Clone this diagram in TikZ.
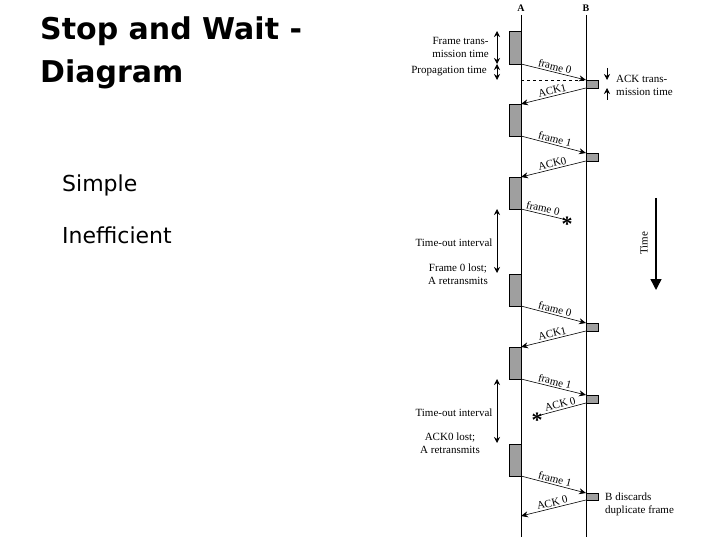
\documentclass[tikz,border=0pt]{standalone}
\usepackage{fontspec}
\setmainfont{Liberation Serif}
\newfontfamily\titlef{DejaVu Sans}
\usetikzlibrary{arrows.meta}
\begin{document}
\begin{tikzpicture}[x=1pt,y=-1pt,
  fbox/.style={fill=gray!75,draw=black,line width=0.5pt},
  msg/.style={-{Stealth[length=7pt,width=6pt]},line width=0.6pt},
  dim/.style={{Stealth[length=6pt,width=6pt]}-{Stealth[length=6pt,width=6pt]},line width=0.8pt},
  lbl/.style={font=\fontsize{11}{13}\selectfont,inner sep=1pt},
  ml/.style={font=\fontsize{11}{12}\selectfont,inner sep=1.5pt,sloped,above}]
\useasboundingbox (0,0) rectangle (720,540);
% title
\node[anchor=north west,align=left,font=\titlef\bfseries\fontsize{30}{43}\selectfont,inner sep=0] (title) at (40,17) {Stop and Wait -\\Diagram};
\node[anchor=west,font=\titlef\fontsize{22}{24}\selectfont,inner sep=0] (s1) at (62,185) {Simple};
\node[anchor=west,font=\titlef\fontsize{22}{24}\selectfont,inner sep=0] (s2) at (62,235) {Inefficient};
% timelines
\node[font=\bfseries\fontsize{10}{10}\selectfont] (A) at (521,8) {A};
\node[font=\bfseries\fontsize{10}{10}\selectfont] (B) at (586,8) {B};
\coordinate (Ae) at (521,537); \coordinate (Be) at (586,537);
\draw[line width=0.7pt] (A.south) -- (Ae);
\draw[line width=0.7pt] (B.south) -- (Be);
% A boxes
\foreach \i/\t/\b in {1/31/64,2/104/136,3/177/209,4/274/306,5/347/379,6/444/476}{
  \draw[fbox] (509,\t) rectangle (521,\b);
  \coordinate (a\i) at (521,\b); \coordinate (at\i) at (521,\t);}
% B boxes
\foreach \i/\t/\b in {1/80/88,2/153/161,3/323/331,4/395/403,5/493/500}{
  \draw[fbox] (586,\t) rectangle (598,\b);
  \coordinate (b\i) at (586,\t); \coordinate (bb\i) at (586,\b);}
% messages
\draw[msg] (a1) -- node[ml]{frame 0} (b1);
\draw[msg] (bb1) -- node[ml]{ACK1} (at2);
\draw[msg] (a2) -- node[ml]{frame 1} (b2);
\draw[msg] (bb2) -- node[ml]{ACK0} (at3);
\coordinate (x1) at (567,220);
\draw[line width=0.6pt] (a3) -- node[ml,pos=0.45]{frame 0} (x1);
\node[font=\fontsize{22}{22}\selectfont\bfseries,inner sep=0,yshift=-4pt] (st1) at (x1) {*};
\draw[msg] (a4) -- node[ml]{frame 0} (b3);
\draw[msg] (bb3) -- node[ml]{ACK1} (at5);
\draw[msg] (a5) -- node[ml]{frame 1} (b4);
\coordinate (x2) at (537,416);
\draw[line width=0.6pt] (bb4) -- node[ml,pos=0.5]{ACK 0} (x2);
\node[font=\fontsize{22}{22}\selectfont\bfseries,inner sep=0,yshift=-4pt] (st2) at (x2) {*};
\draw[msg] (a6) -- node[ml]{frame 1} (b5);
\coordinate (ae) at (521,516);
\draw[msg] (bb5) -- node[ml]{ACK 0} (ae);
\draw[dashed,line width=0.6pt] (521,80) coordinate (d1) -- (b1);
% left dims
\coordinate (p1) at (497,31); \coordinate (p2) at (497,64); \coordinate (p3) at (497,80);
\draw[dim] (p1) -- (p2);
\draw[dim] (p2) -- (p3);
\node[lbl,anchor=east,align=center] (ft) at (490,47) {Frame trans-\\mission time};
\node[lbl,anchor=east] (pt) at (488,71) {Propagation time};
\coordinate (t1) at (497,209); \coordinate (t2) at (497,273);
\draw[dim] (t1) -- (t2);
\node[lbl] (to1) at (454,243) {Time-out interval};
\node[lbl,align=center] (fl) at (458,274) {Frame 0 lost;\\A retransmits};
\coordinate (t3) at (497,379); \coordinate (t4) at (497,443);
\draw[dim] (t3) -- (t4);
\node[lbl] (to2) at (454,413) {Time-out interval};
\node[lbl,align=center] (al) at (450,443) {ACK0 lost;\\A retransmits};
% ACK transmission
\coordinate (k1) at (607,68); \coordinate (k2) at (607,80); \coordinate (k3) at (607,100); \coordinate (k4) at (607,88);
\draw[-{Stealth[length=6pt,width=6pt]},line width=0.7pt] (k1) -- (k2);
\draw[-{Stealth[length=6pt,width=6pt]},line width=0.7pt] (k3) -- (k4);
\node[lbl,anchor=west,align=left] (at) at (615,85) {ACK trans-\\mission time};
\node[lbl,anchor=west,align=left] (bd) at (604,504) {B discards\\duplicate frame};
% time arrow
\coordinate (ts) at (656,198); \coordinate (te) at (656,290);
\draw[-{Triangle[length=11pt,width=11pt]},line width=1.4pt] (ts) -- (te);
\node[lbl,rotate=90] (tm) at (644,243) {Time};
\end{tikzpicture}
\end{document}
